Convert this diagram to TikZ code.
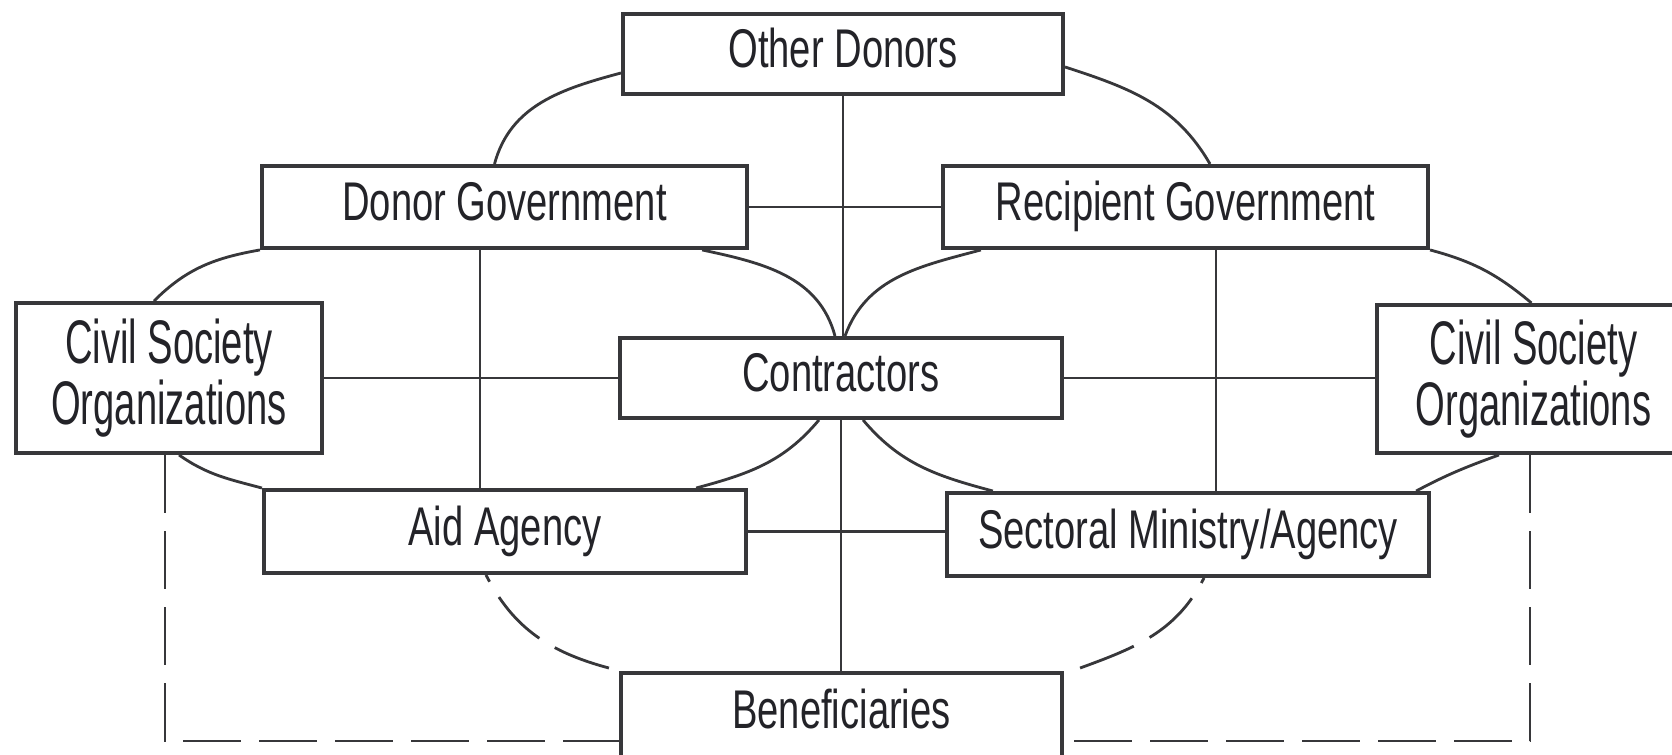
\documentclass[tikz,border=0pt]{standalone}
\usepackage{fontspec}
\setmainfont{Liberation Sans}[FakeStretch=0.70]
\newfontfamily\narrowfont{Liberation Sans}[FakeStretch=0.62]
\usetikzlibrary{calc}
\definecolor{boxgray}{RGB}{55,55,58}
\definecolor{textgray}{RGB}{35,35,40}

\tikzset{
    box/.style={draw=boxgray, line width=1.1pt, fill=white, inner sep=0pt, text=textgray},
    actor/.style={box, minimum height=0.82cm, font=\fontsize{15.5}{18}\selectfont,
        text height=0.39cm, text depth=0.11cm},
    civ/.style={box, align=center, font=\narrowfont\fontsize{17.5}{14.8}\selectfont},
    link/.style={draw=boxgray, line width=0.8pt},
    dashlink/.style={link, dash pattern=on 0.58cm off 0.18cm},
}

\begin{document}
\begin{tikzpicture}[x=0.01cm, y=0.01cm]
    \useasboundingbox (0, 0) rectangle (1672, 755);
    \clip (0, 0) rectangle (1672, 755);
    % Boxes
    \node[actor, minimum width=4.4cm, minimum height=0.8cm] (odon) at (843, 701) {Other Donors};
    \node[actor, minimum width=4.85cm] (dgov) at (504.5, 548) {Donor Government};
    \node[actor, minimum width=4.85cm] (rgov) at (1185.5, 548) {Recipient Government};
    \node[civ, minimum width=3.06cm, minimum height=1.5cm] (csl) at (169, 377) {Civil Society\\Organizations};
    \node[actor, minimum width=4.41cm, minimum height=0.8cm] (con) at (841, 377) {Contractors};
    \node[civ, minimum width=3.13cm, minimum height=1.48cm] (csr) at (1533.5, 376) {Civil Society\\Organizations};
    \node[actor, minimum width=4.82cm, minimum height=0.83cm] (aid) at (505, 223.5) {Aid Agency};
    \node[actor, minimum width=4.82cm, minimum height=0.83cm] (sec) at (1188, 220.5) {Sectoral Ministry/Agency};
    \node[actor, minimum width=4.41cm, minimum height=0.84cm] (ben) at (841.5, 40) {Beneficiaries};
    % Straight links
    \draw[link] (odon.south) -- (odon.south |- con.north);
    \draw[link] (con.south) -- (con.south |- ben.north);
    \draw[link] (dgov.east) -- (dgov.east -| rgov.west);
    \draw[link] (csl.east) -- (con.west);
    \draw[link] (con.east) -- (con.east -| csr.west);
    \draw[link] (aid.east) -- (aid.east -| sec.west);
    \draw[link] ([xshift=-0.245cm]dgov.south) -- ([xshift=-0.245cm]dgov.south |- aid.north);
    \draw[link] ([xshift=0.305cm]rgov.south) -- ([xshift=0.305cm]rgov.south |- sec.north);
    % Curved links
    \draw[link] ([yshift=-0.19cm]odon.west) to[out=195, in=75] ([xshift=-0.1cm]dgov.north);
    \draw[link] ([yshift=-0.13cm]odon.east) to[out=-18, in=120] ([xshift=0.245cm]rgov.north);
    \draw[link] (dgov.south west) to[out=190, in=45] ([xshift=-0.15cm]csl.north);
    \draw[link] ([xshift=1.975cm]dgov.south) to[out=-12, in=105] ([xshift=-0.06cm]con.north);
    \draw[link] ([xshift=-2.045cm]rgov.south) to[out=195, in=70] ([xshift=0.04cm]con.north);
    \draw[link] (rgov.south east) to[out=-15, in=140] ([xshift=-0.02cm]csr.north);
    \draw[link] ([xshift=0.1cm]csl.south) to[out=-35, in=165] (aid.north west);
    \draw[link] ([xshift=-0.22cm]con.south) to[out=230, in=15] ([xshift=1.91cm]aid.north);
    \draw[link] ([xshift=0.22cm]con.south) to[out=-50, in=165] ([xshift=-1.95cm]sec.north);
    \draw[link] ([xshift=-0.345cm]csr.south) to[out=200, in=28] ([xshift=2.28cm]sec.north);
    % Dashed links
    \draw[dashlink] ([xshift=-0.1cm, yshift=0.03cm]ben.north west) to[out=165, in=-63] ([xshift=-0.19cm]aid.south);
    \draw[dashlink] ([xshift=0.16cm, yshift=0.03cm]ben.north east) to[out=20, in=243] ([xshift=0.16cm]sec.south);
    \draw[dashlink] ([xshift=-0.04cm]csl.south) |- ([yshift=-0.26cm]ben.west);
    \draw[dashlink] ([xshift=-0.035cm]csr.south) |- ([yshift=-0.26cm]ben.east);
\end{tikzpicture}
\end{document}
